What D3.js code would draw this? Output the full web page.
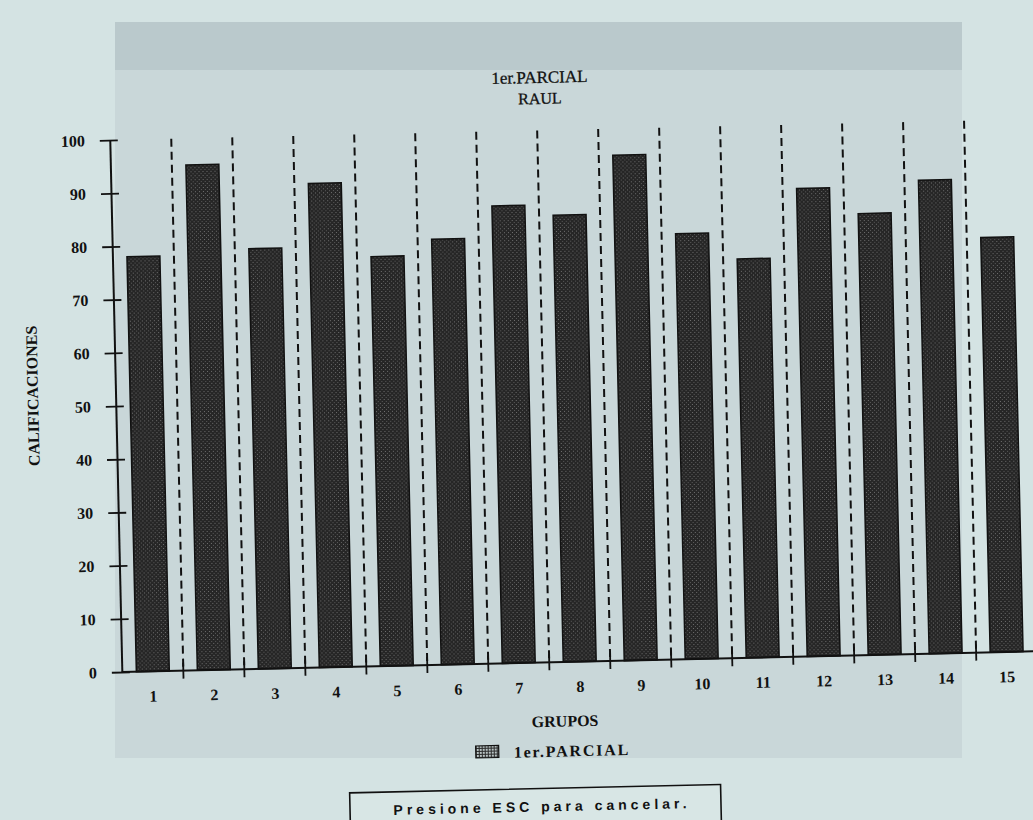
<!DOCTYPE html>
<html>
<head>
<meta charset="utf-8">
<script src="https://cdn.jsdelivr.net/npm/d3@7/dist/d3.min.js"></script>
<style>
  html, body { margin: 0; padding: 0; background: #d4e3e3; }
  svg { display: block; }
</style>
</head>
<body>
<svg id="chart" width="1033" height="820"></svg>
<script>
// ---------------- data ----------------
const categories = ["1","2","3","4","5","6","7","8","9","10","11","12","13","14","15"];
const values = [78, 95, 79, 91, 77, 80, 86, 84, 95, 80, 75, 88, 83, 89, 78];
const yTicks = [0, 10, 20, 30, 40, 50, 60, 70, 80, 90, 100];
const titleText = "1er.PARCIAL";
const subtitleText = "RAUL";
const xAxisTitle = "GRUPOS";
const yAxisTitle = "CALIFICACIONES";
const legendLabel = "1er.PARCIAL";
const footerText = "Presione ESC para cancelar.";

// ---------------- setup ----------------
const svg = d3.select("#chart");
const serif = "'Liberation Serif', 'Times New Roman', serif";

const defs = svg.append("defs");
const stip = defs.append("pattern").attr("id", "stipple")
  .attr("patternUnits", "userSpaceOnUse").attr("width", 4).attr("height", 4);
stip.append("rect").attr("width", 4).attr("height", 4).attr("fill", "#262626");
stip.append("rect").attr("x", 0).attr("y", 0).attr("width", 1).attr("height", 1).attr("fill", "#707070");
stip.append("rect").attr("x", 2).attr("y", 2).attr("width", 1).attr("height", 1).attr("fill", "#5c5c5c");

const grid = defs.append("pattern").attr("id", "legendgrid")
  .attr("patternUnits", "userSpaceOnUse").attr("width", 3).attr("height", 3);
grid.append("rect").attr("width", 3).attr("height", 3).attr("fill", "#2a2a2a");
grid.append("rect").attr("x", 1).attr("y", 1).attr("width", 2).attr("height", 2).attr("fill", "#b9c4c4");

// faint ghost window of the screen (background)
const ghost = svg.append("g");
ghost.append("rect").attr("x", 115).attr("y", 22).attr("width", 847).attr("height", 736)
  .attr("fill", "#c9d7d9");
ghost.append("rect").attr("x", 115).attr("y", 22).attr("width", 847).attr("height", 48)
  .attr("fill", "#bac9cc");

// photographed screen is slightly rotated
const g = svg.append("g").attr("transform", "rotate(-1.3, 516, 410)");

const x = d3.scaleBand().domain(categories)
  .range([116.5, 1031.5]).paddingInner(0.46).paddingOuter(0.23);
const y = d3.scaleLinear().domain([0, 100]).range([663, 131]);

const gap = (x.step() - x.bandwidth()) / 2;
const boundaries = categories.slice(1).map(c => x(c) - gap);

// dashed separators
g.append("g").selectAll("line.sep").data(boundaries).join("line")
  .attr("x1", d => d).attr("x2", d => d)
  .attr("y1", y(100)).attr("y2", y(0))
  .attr("stroke", "#111").attr("stroke-width", 2)
  .attr("stroke-dasharray", "8,5");

// bars
g.append("g").selectAll("rect.bar").data(values).join("rect")
  .attr("x", (d, i) => x(categories[i]))
  .attr("y", d => y(d))
  .attr("width", x.bandwidth())
  .attr("height", d => y(0) - y(d))
  .attr("fill", "url(#stipple)")
  .attr("stroke", "#111").attr("stroke-width", 1.5);

// x baseline and crossing ticks
g.append("line").attr("x1", 116).attr("x2", 1030)
  .attr("y1", y(0)).attr("y2", y(0))
  .attr("stroke", "#111").attr("stroke-width", 2);
g.append("g").selectAll("line.xt").data(boundaries).join("line")
  .attr("x1", d => d).attr("x2", d => d)
  .attr("y1", y(0) - 8).attr("y2", y(0) + 8)
  .attr("stroke", "#111").attr("stroke-width", 1.8);

// x labels
const xAxis = g.append("g").attr("transform", `translate(0,${y(0)})`)
  .call(d3.axisBottom(x).tickSize(0).tickPadding(19));
xAxis.select(".domain").remove();
xAxis.selectAll("text").attr("font-family", serif).attr("font-size", 16)
  .attr("font-weight", "bold").attr("fill", "#111");

// y axis
const yAxis = g.append("g").attr("transform", "translate(116,0)")
  .call(d3.axisLeft(y).tickValues(yTicks).tickSizeInner(0).tickSizeOuter(0).tickPadding(25));
yAxis.select(".domain").attr("stroke", "#111").attr("stroke-width", 2);
yAxis.selectAll(".tick line").attr("x1", -10).attr("x2", 8)
  .attr("stroke", "#111").attr("stroke-width", 1.8);
yAxis.selectAll("text").attr("font-family", serif).attr("font-size", 16)
  .attr("font-weight", "bold").attr("fill", "#111");

// titles
g.append("text").attr("x", 547).attr("y", 78).attr("text-anchor", "middle")
  .attr("dominant-baseline", "central")
  .attr("font-family", serif).attr("font-size", 17).attr("fill", "#111")
  .attr("stroke", "#111").attr("stroke-width", 0.3)
  .text(titleText);
g.append("text").attr("x", 547).attr("y", 99).attr("text-anchor", "middle")
  .attr("dominant-baseline", "central")
  .attr("font-family", serif).attr("font-size", 16).attr("fill", "#111")
  .attr("stroke", "#111").attr("stroke-width", 0.3)
  .text(subtitleText);

g.append("text")
  .attr("transform", "translate(33,385) rotate(-90)")
  .attr("text-anchor", "middle").attr("dominant-baseline", "central")
  .attr("font-family", serif).attr("font-size", 16).attr("font-weight", "bold")
  .attr("fill", "#111").text(yAxisTitle);

g.append("text").attr("x", 558).attr("y", 722).attr("text-anchor", "middle")
  .attr("dominant-baseline", "central")
  .attr("font-family", serif).attr("font-size", 16).attr("font-weight", "bold")
  .attr("fill", "#111").text(xAxisTitle);

// legend
g.append("rect").attr("x", 468).attr("y", 745).attr("width", 23).attr("height", 12)
  .attr("fill", "url(#legendgrid)").attr("stroke", "#111").attr("stroke-width", 1.2);
g.append("text").attr("x", 506).attr("y", 752).attr("dominant-baseline", "central")
  .attr("font-family", serif).attr("font-size", 16).attr("font-weight", "bold")
  .attr("letter-spacing", 1.8).attr("fill", "#111").text(legendLabel);

// footer box
g.append("rect").attr("x", 341).attr("y", 789).attr("width", 371).attr("height", 60)
  .attr("fill", "#d8e6e5").attr("stroke", "#111").attr("stroke-width", 1.6);
g.append("text").attr("x", 533).attr("y", 807).attr("text-anchor", "middle")
  .attr("dominant-baseline", "central")
  .attr("font-family", "'Liberation Sans', Arial, sans-serif").attr("font-size", 14)
  .attr("font-weight", "bold").attr("letter-spacing", 4).attr("fill", "#111")
  .text(footerText);
</script>
</body>
</html>
